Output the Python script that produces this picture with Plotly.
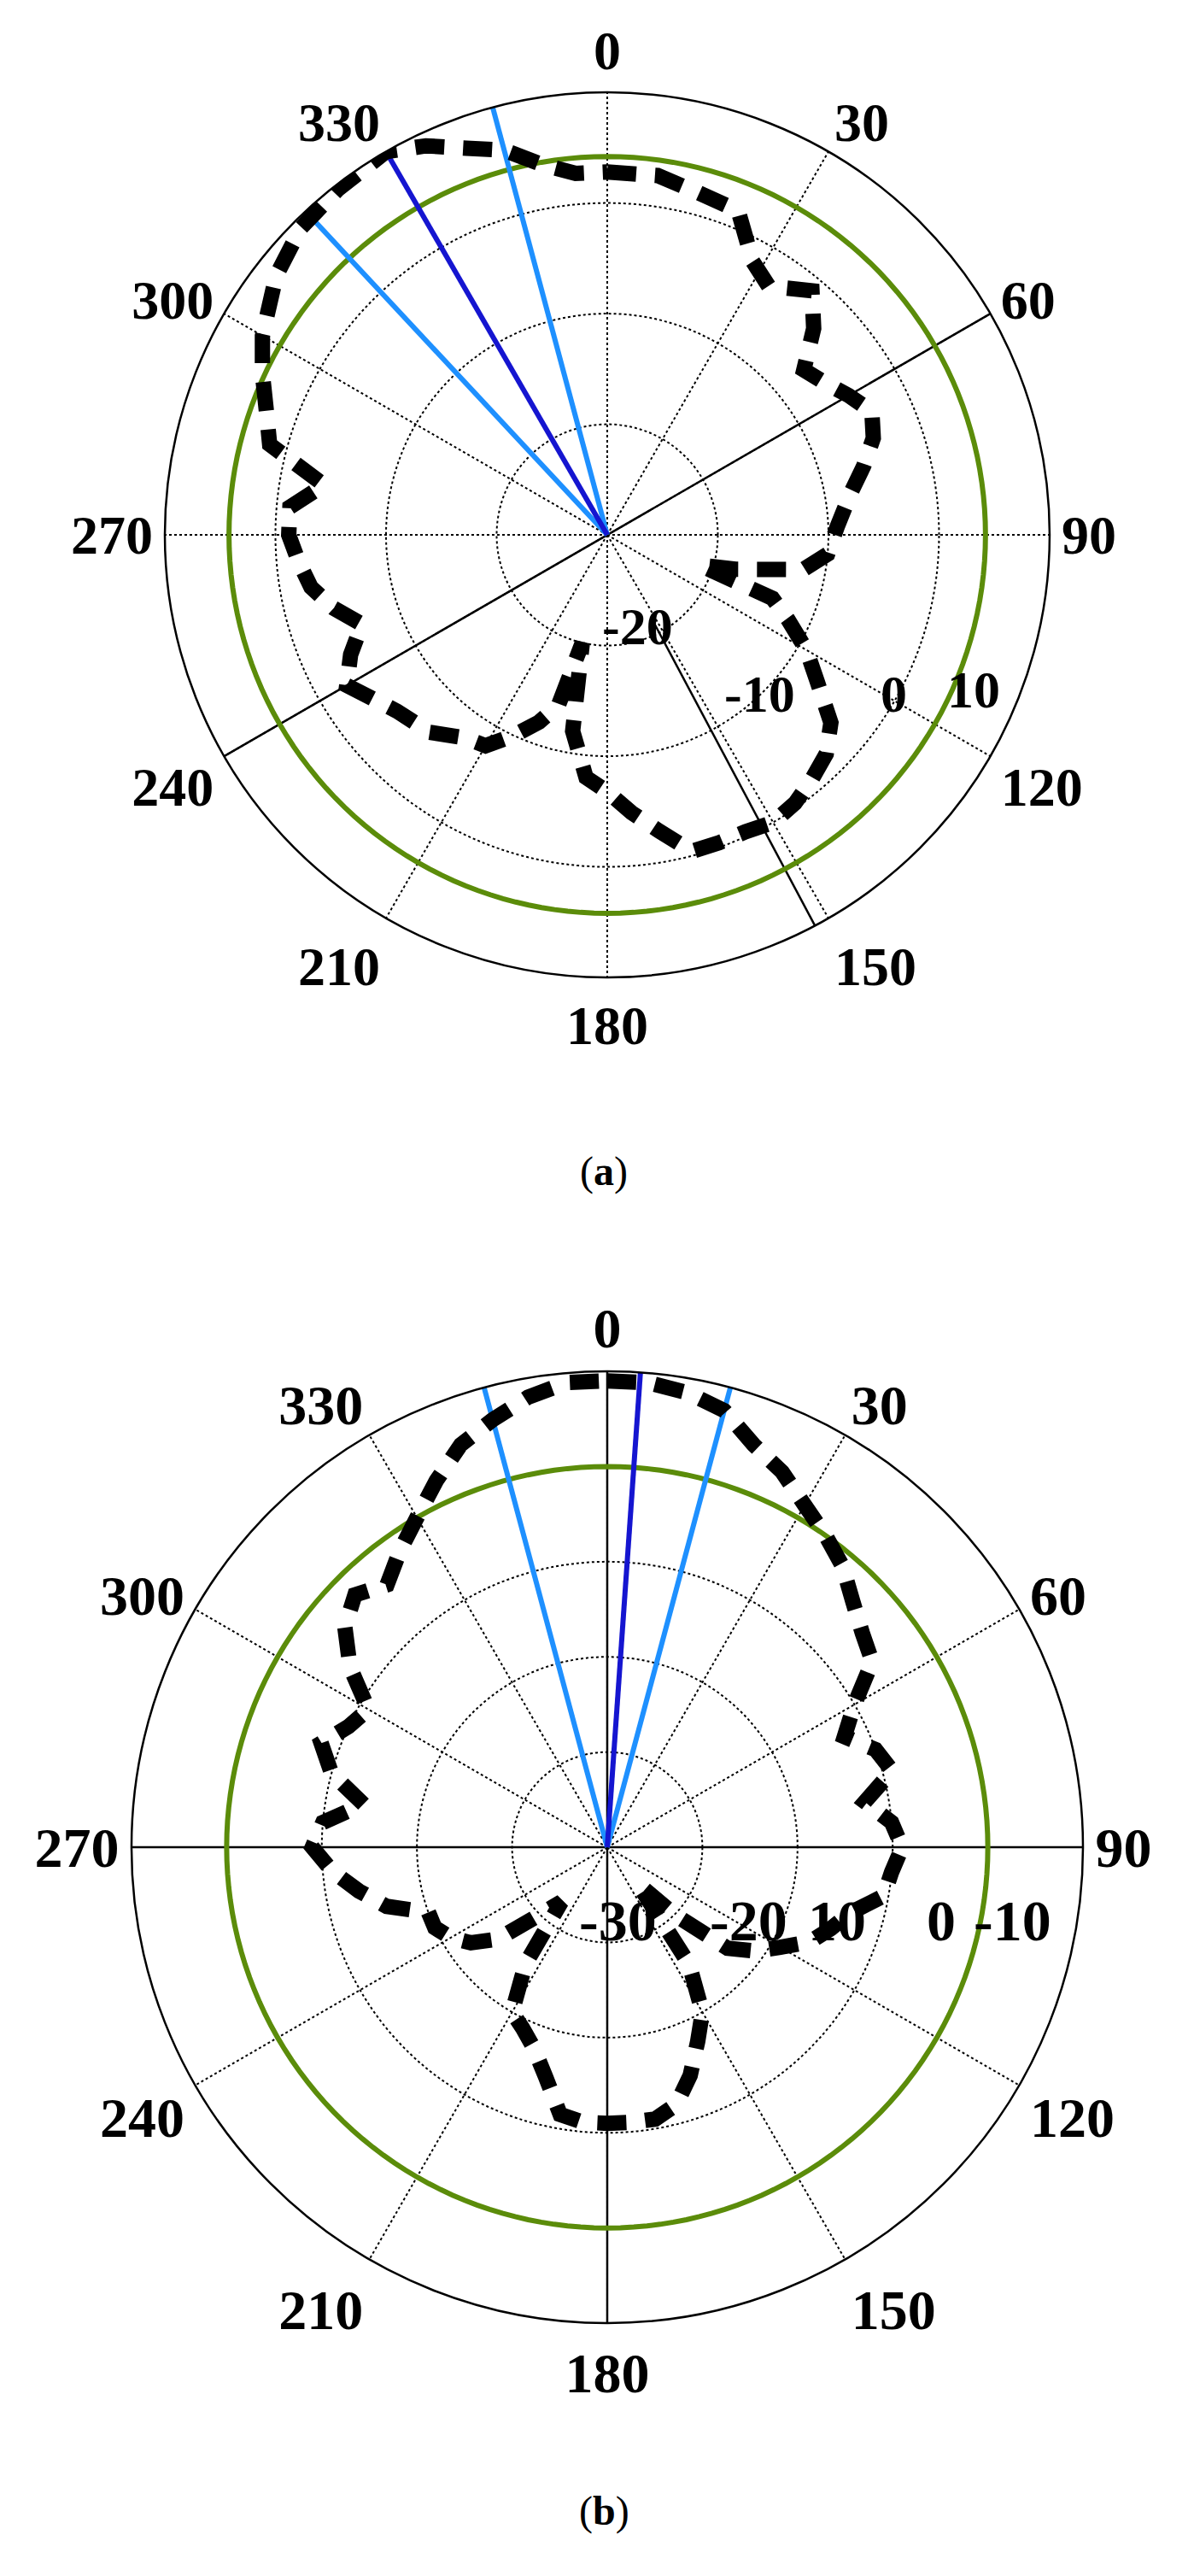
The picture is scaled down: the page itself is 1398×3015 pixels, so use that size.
import plotly.graph_objects as go

# ---- data (a) ----
ang_a = [0, 8, 15, 22, 28, 33, 40, 45, 50, 55, 60, 65, 70, 75, 80, 88, 95, 100, 105, 108, 111, 115,
         120, 125, 130, 135, 140, 145, 150, 155, 160, 165, 170, 175, 180, 185, 190, 193, 196, 200,
         205, 210, 215, 222, 230, 240, 245, 250, 255, 260, 265, 270, 275, 280, 285, 290, 295, 300,
         308, 315, 322, 330, 335, 340, 345, 350, 355, 360]
gain_a = [2.8, 2.8, 2.0, 1.6, -2.0, -3.2, -1.2, -3.6, -6.8, -6.0, -4.8, -3.6, -4.4, -6.0, -7.6, -9.2,
          -10.0, -12.0, -18.0, -21.2, -14.0, -12.0, -9.2, -6.8, -3.6, -2.0, -1.2, -0.4, 0.0, -0.4,
          -0.4, -0.4, -2.8, -4.8, -6.8, -8.0, -12.0, -20.0, -14.0, -12.0, -10.0, -8.0, -7.6, -6.0,
          -5.2, -2.8, -4.4, -6.4, -4.4, -2.8, -2.0, -1.2, -1.2, -4.0, 1.6, 2.8, 4.4, 6.0, 8.0, 9.2,
          9.6, 10.0, 8.8, 7.2, 6.0, 4.0, 2.8, 2.8]
ticks_a = [-20, -10, 0, 10]
green_a = 4.2
beam_a = [330]
edge_a = [317, 345]

# ---- data (b) ----
ang_b = [0, 5, 10, 15, 20, 25, 30, 35, 40, 45, 50, 55, 60, 65, 70, 75, 80, 85, 90, 95, 100, 105,
         110, 115, 120, 125, 130, 135, 140, 145, 150, 155, 160, 165, 170, 175, 180, 185, 190, 195,
         200, 205, 210, 215, 220, 225, 230, 235, 240, 245, 250, 255, 260, 265, 270, 275, 280, 285,
         290, 295, 300, 305, 310, 315, 320, 325, 330, 335, 340, 345, 350, 355, 360]
gain_b = [9.0, 9.0, 8.5, 7.5, 5.0, 3.5, 1.5, 0.0, -1.5, -3.5, -5.0, -6.0, -10.0, -12.5, -10.0, -9.0,
          -12.5, -10.0, -9.0, -10.0, -10.5, -13.5, -15.0, -16.5, -19.0, -21.0, -23.5, -30.0, -35.0,
          -25.0, -20.0, -17.5, -14.5, -12.0, -11.0, -11.0, -11.0, -11.0, -11.5, -15.0, -17.5, -19.0,
          -20.0, -25.0, -32.5, -30.0, -25.0, -22.5, -21.0, -20.0, -20.0, -16.0, -13.5, -11.0, -9.0,
          -10.0, -14.0, -10.0, -8.0, -10.0, -11.0, -7.0, -4.0, -2.5, -4.0, -2.0, 0.0, 2.5, 5.0, 6.5,
          8.0, 9.0, 9.0]
ticks_b = [-30, -20, -10, 0]
ticktext_b = ["-30", "-20", "10", "0", "-10"]
green_b = 0
beam_b = [4]
edge_b = [15, 345]

angles = list(range(0, 360, 30))
FONT = "Liberation Serif"
W, H = 1398, 3015

fig = go.Figure()


def add_pattern(sub, ang, gain, rmin, rmax, green, beam, edge):
    circ = list(range(0, 361, 2))
    fig.add_trace(go.Scatterpolar(theta=circ, r=[green] * len(circ), mode="lines",
                                  line=dict(color="#5b8c0a", width=6), subplot=sub))
    for a in edge:
        fig.add_trace(go.Scatterpolar(theta=[a, a], r=[rmin, rmax], mode="lines",
                                      line=dict(color="#1e90ff", width=6), subplot=sub))
    for a in beam:
        fig.add_trace(go.Scatterpolar(theta=[a, a], r=[rmin, rmax], mode="lines",
                                      line=dict(color="#1515d0", width=6), subplot=sub))
    fig.add_trace(go.Scatterpolar(theta=ang, r=gain, mode="lines",
                                  line=dict(color="black", width=18, dash="34px,22px"),
                                  subplot=sub))


# diameters through the center
def diam(sub, a, rmin, rmax):
    fig.add_trace(go.Scatterpolar(theta=[a, a, a + 180], r=[rmax, rmin, rmax], mode="lines",
                                  line=dict(color="black", width=2.5), subplot=sub))


diam("polar", 60, -30, 10)
fig.add_trace(go.Scatterpolar(theta=[152, 152], r=[-21, 10], mode="lines",
                              line=dict(color="black", width=2.5), subplot="polar"))
add_pattern("polar", ang_a, gain_a, -30, 10, green_a, beam_a, edge_a)
diam("polar2", 0, -40, 10)
diam("polar2", 90, -40, 10)
add_pattern("polar2", ang_b, gain_b, -40, 10, green_b, beam_b, edge_b)


def polar_layout(dom_x, dom_y, rng, tv, size):
    return dict(
        domain=dict(x=dom_x, y=dom_y),
        bgcolor="white",
        angularaxis=dict(rotation=90, direction="clockwise", tickvals=angles,
                         ticktext=["<b>%d</b>" % a for a in angles], ticks="",
                         tickfont=dict(family=FONT, size=size, color="black"),
                         showline=True, linecolor="black", linewidth=2.5,
                         gridcolor="black", griddash="dot", gridwidth=2),
        radialaxis=dict(range=rng, tickvals=tv, showticklabels=False, ticks="",
                        showline=False, gridcolor="black", griddash="dot", gridwidth=2),
    )


fig.update_layout(
    width=W, height=H, paper_bgcolor="white", showlegend=False,
    margin=dict(l=0, r=0, t=0, b=0),
    polar=polar_layout([0.1323, 0.8734], [0.6232, 0.9668], [-30, 10], ticks_a, 64),
    polar2=polar_layout([0.1044, 0.9013], [0.1008, 0.4703], [-40, 10], ticks_b + [10], 66),
)

# radial tick labels placed as in the original figure (pixel offsets from center)
ca = (703, 618)
off_a = [(35, 71), (178, 150), (353, 150), (462, 145)]
for t, (dx, dy) in zip(ticks_a, off_a):
    fig.add_annotation(x=(ca[0] + dx) / W, y=1 - (ca[1] + dy) / H, xref="paper", yref="paper",
                       text="<b>%d</b>" % t, showarrow=False,
                       font=dict(family=FONT, size=62, color="black"))
cb = (703, 2154)
off_b = [(12, 126), (165, 126), (305, 126), (410, 126), (522, 126)]
for t, (dx, dy) in zip(ticktext_b, off_b):
    fig.add_annotation(x=(cb[0] + dx) / W, y=1 - (cb[1] + dy) / H, xref="paper", yref="paper",
                       text="<b>" + t + "</b>", showarrow=False,
                       font=dict(family=FONT, size=68, color="black"))

fig.add_annotation(x=0.5, y=1 - 1363 / H, xref="paper", yref="paper", showarrow=False,
                   text="(<b>a</b>)", font=dict(family=FONT, size=48, color="black"))
fig.add_annotation(x=0.5, y=1 - 2960 / H, xref="paper", yref="paper", showarrow=False,
                   text="(<b>b</b>)", font=dict(family=FONT, size=48, color="black"))

fig.write_html("out.html")
